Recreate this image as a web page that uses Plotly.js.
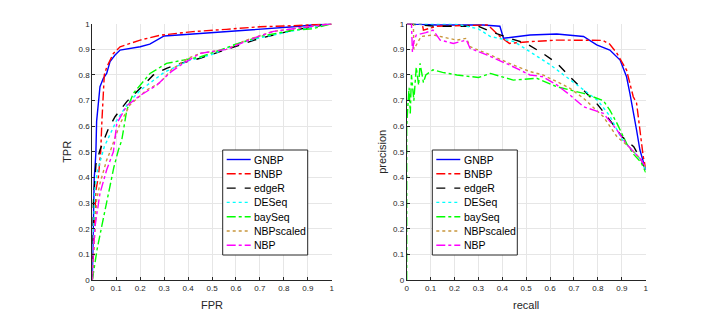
<!DOCTYPE html>
<html><head><meta charset="utf-8">
<script src="https://cdn.plot.ly/plotly-3.0.1.min.js"></script>
<style>html,body{margin:0;padding:0;background:#fff}</style>
</head><body><div id="chart" style="width:714px;height:315px"></div>
<script>
const seriesNames = ["GNBP","BNBP","edgeR","DESeq","baySeq","NBPscaled","NBP"];
const tickVals = [0,0.1,0.2,0.3,0.4,0.5,0.6,0.7,0.8,0.9,1];
const tickText = ["0","0.1","0.2","0.3","0.4","0.5","0.6","0.7","0.8","0.9","1"];

// ROC curves (FPR, TPR)
const rocGNBP_x = [0,0.004,0.008,0.012,0.015,0.018,0.025,0.032,0.046,0.06,0.074,0.095,0.116,0.15,0.2,0.24,0.283,0.3,0.42,0.56,0.7,0.84,0.92,1];
const rocGNBP_y = [0,0.3,0.4,0.45,0.5,0.62,0.7,0.754,0.787,0.806,0.852,0.878,0.897,0.902,0.91,0.92,0.943,0.952,0.96,0.969,0.978,0.988,0.995,1];
const rocBNBP_x = [0,0.005,0.01,0.015,0.025,0.035,0.04,0.045,0.05,0.06,0.088,0.116,0.2,0.283,0.42,0.56,0.7,0.84,1];
const rocBNBP_y = [0,0.1,0.25,0.35,0.4,0.5,0.62,0.72,0.8,0.83,0.884,0.91,0.936,0.955,0.969,0.978,0.988,0.992,1];
const rocEdgeR_x = [0,0.004,0.01,0.015,0.032,0.067,0.095,0.144,0.2,0.255,0.31,0.368,0.45,0.56,0.7,0.84,1];
const rocEdgeR_y = [0,0.3,0.38,0.45,0.507,0.59,0.637,0.696,0.748,0.8,0.826,0.845,0.865,0.9,0.943,0.975,1];
const rocDESeq_x = [0,0.003,0.006,0.01,0.02,0.05,0.1,0.15,0.2,0.3,0.4,0.5,0.6,0.7,0.84,1];
const rocDESeq_y = [0,0.12,0.25,0.35,0.42,0.52,0.62,0.69,0.74,0.81,0.855,0.88,0.92,0.945,0.972,1];
const rocBaySeq_x = [0,0.005,0.011,0.02,0.039,0.055,0.074,0.09,0.109,0.123,0.144,0.171,0.241,0.31,0.38,0.45,0.533,0.6,0.7,0.84,0.92,1];
const rocBaySeq_y = [0,0.03,0.08,0.12,0.208,0.28,0.377,0.44,0.507,0.546,0.663,0.728,0.806,0.845,0.858,0.87,0.897,0.92,0.95,0.975,0.98,1];
const rocNBPscaled_x = [0,0.005,0.01,0.018,0.032,0.06,0.074,0.116,0.157,0.227,0.283,0.33,0.4,0.45,0.56,0.64,0.756,0.84,1];
const rocNBPscaled_y = [0,0.1,0.2,0.312,0.377,0.468,0.5,0.61,0.683,0.741,0.77,0.82,0.865,0.884,0.9,0.935,0.97,0.98,1];
const rocNBP_x = [0,0.004,0.011,0.032,0.06,0.088,0.102,0.144,0.2,0.269,0.33,0.38,0.45,0.56,0.673,0.756,0.84,1];
const rocNBP_y = [0,0.117,0.208,0.338,0.43,0.5,0.61,0.68,0.72,0.76,0.813,0.845,0.884,0.9,0.943,0.97,0.98,1];

// Precision-recall curves (recall, precision)
const prGNBP_x = [0,0.125,0.32,0.39,0.405,0.516,0.628,0.74,0.795,0.85,0.893,0.92,0.934,0.948,0.962,0.976,0.99,1];
const prGNBP_y = [1,0.995,0.995,0.99,0.943,0.956,0.96,0.95,0.917,0.897,0.858,0.793,0.728,0.663,0.585,0.507,0.46,0.43];
const prBNBP_x = [0,0.065,0.07,0.125,0.34,0.39,0.43,0.516,0.63,0.82,0.85,0.88,0.92,0.948,0.962,0.976,0.99,1];
const prBNBP_y = [1,1,0.975,0.99,0.995,0.95,0.923,0.93,0.936,0.935,0.92,0.884,0.819,0.715,0.69,0.585,0.48,0.44];
const prEdgeR_x = [0,0.12,0.3,0.35,0.43,0.5,0.57,0.63,0.683,0.74,0.795,0.85,0.88,0.9,0.95,0.98,1];
const prEdgeR_y = [1,0.99,0.99,0.97,0.943,0.923,0.884,0.845,0.793,0.741,0.689,0.624,0.585,0.56,0.52,0.47,0.43];
const prDESeq_x = [0,0.2,0.3,0.35,0.45,0.5,0.6,0.7,0.8,0.85,0.9,0.95,0.98,1];
const prDESeq_y = [1,1,0.98,0.95,0.93,0.9,0.84,0.77,0.7,0.64,0.55,0.5,0.47,0.43];
const prBaySeq_x = [0,0,0.005,0.01,0.015,0.02,0.03,0.04,0.05,0.056,0.07,0.08,0.11,0.15,0.21,0.3,0.35,0.446,0.544,0.628,0.74,0.823,0.85,0.88,0.92,0.95,0.98,1];
const prBaySeq_y = [0,0.6,0.68,0.75,0.65,0.8,0.7,0.83,0.76,0.845,0.77,0.8,0.82,0.81,0.8,0.79,0.806,0.78,0.787,0.754,0.728,0.7,0.663,0.611,0.533,0.49,0.46,0.42];
const prNBPscaled_x = [0,0.028,0.03,0.06,0.11,0.21,0.25,0.265,0.335,0.43,0.516,0.57,0.628,0.683,0.74,0.823,0.88,0.93,0.96,0.98,1];
const prNBPscaled_y = [1,1,0.9,0.95,0.956,0.936,0.943,0.91,0.884,0.845,0.813,0.8,0.774,0.748,0.709,0.637,0.559,0.52,0.49,0.47,0.44];
const prNBP_x = [0,0.02,0.024,0.03,0.04,0.08,0.11,0.125,0.14,0.195,0.25,0.265,0.335,0.43,0.516,0.57,0.628,0.683,0.74,0.823,0.88,0.92,0.96,0.98,1];
const prNBP_y = [1,1,0.89,0.93,0.956,0.965,0.975,0.956,0.936,0.923,0.936,0.904,0.878,0.839,0.8,0.793,0.761,0.722,0.676,0.65,0.585,0.53,0.49,0.47,0.44];

const colors = ["#0000FF","#FF0000","#000000","#00FFFF","#00FF00","#C8963C","#FF00FF"];
const dashes = ["solid","dashdot","dash","dot","dashdot","dot","dashdot"];

const W = 714, H = 315;
const rocX = [rocGNBP_x,rocBNBP_x,rocEdgeR_x,rocDESeq_x,rocBaySeq_x,rocNBPscaled_x,rocNBP_x];
const rocY = [rocGNBP_y,rocBNBP_y,rocEdgeR_y,rocDESeq_y,rocBaySeq_y,rocNBPscaled_y,rocNBP_y];
const prX = [prGNBP_x,prBNBP_x,prEdgeR_x,prDESeq_x,prBaySeq_x,prNBPscaled_x,prNBP_x];
const prY = [prGNBP_y,prBNBP_y,prEdgeR_y,prDESeq_y,prBaySeq_y,prNBPscaled_y,prNBP_y];

const traces = [];
seriesNames.forEach((n,i)=>{
  traces.push({x:rocX[i],y:rocY[i],name:n,type:"scatter",mode:"lines",xaxis:"x",yaxis:"y",
    line:{color:colors[i],dash:dashes[i],width:1.4},showlegend:false});
});
seriesNames.forEach((n,i)=>{
  traces.push({x:prX[i],y:prY[i],name:n,type:"scatter",mode:"lines",xaxis:"x2",yaxis:"y2",
    line:{color:colors[i],dash:dashes[i],width:1.4},showlegend:false});
});

const FONT = "Liberation Sans, Arial, sans-serif";
const ax = (dom, title, anchor, standoff) => ({
  domain: dom, range:[0,1], tickvals:tickVals, ticktext:tickText, anchor: anchor,
  showgrid:true, gridcolor:"#E6E6E6", gridwidth:1, zeroline:false,
  showline:true, linecolor:"#262626", linewidth:1, ticks:"inside", ticklen:3, tickcolor:"#262626",
  tickfont:{family:FONT, size:8, color:"#262626"},
  title:{text:title, font:{family:FONT, size:11, color:"#262626"}, standoff:standoff},
  automargin:false, fixedrange:true
});

// Legend boxes (drawn as shapes + annotations in paper pixels)
const shapes = [], annotations = [];
function addLegend(left) {
  const top = 150, bottom = 255, right = left + 85, first = 159.5, step = 14.3;
  shapes.push({type:"rect", xref:"paper", yref:"paper", x0:left/W, x1:right/W, y0:1-bottom/H, y1:1-top/H,
    fillcolor:"#FFFFFF", line:{color:"#262626", width:1}, layer:"above"});
  seriesNames.forEach((n,i)=>{
    const yy = 1-(first+i*step)/H;
    shapes.push({type:"line", xref:"paper", yref:"paper", x0:(left+4)/W, x1:(left+28)/W, y0:yy, y1:yy,
      line:{color:colors[i], dash:dashes[i], width:1.4}, layer:"above"});
    annotations.push({xref:"paper", yref:"paper", x:(left+29.5)/W, y:yy, xanchor:"left", yanchor:"middle",
      text:n, showarrow:false, font:{family:FONT, size:10.5, color:"#000"}});
  });
}
addLegend(222.7);
addLegend(432.3);

const layout = {
  width:W, height:H, margin:{l:0,r:0,t:0,b:0}, paper_bgcolor:"#fff", plot_bgcolor:"#fff",
  showlegend:false,
  xaxis: ax([0.1293,0.4646],"FPR","y",9),
  yaxis: ax([0.1111,0.9248],"TPR","x",4),
  xaxis2: ax([0.5696,0.9043],"recall","y2",9),
  yaxis2: ax([0.1111,0.9248],"precision","x2",4),
  shapes: shapes, annotations: annotations
};

Plotly.newPlot("chart", traces, layout, {displayModeBar:false, staticPlot:true});
</script></body></html>
